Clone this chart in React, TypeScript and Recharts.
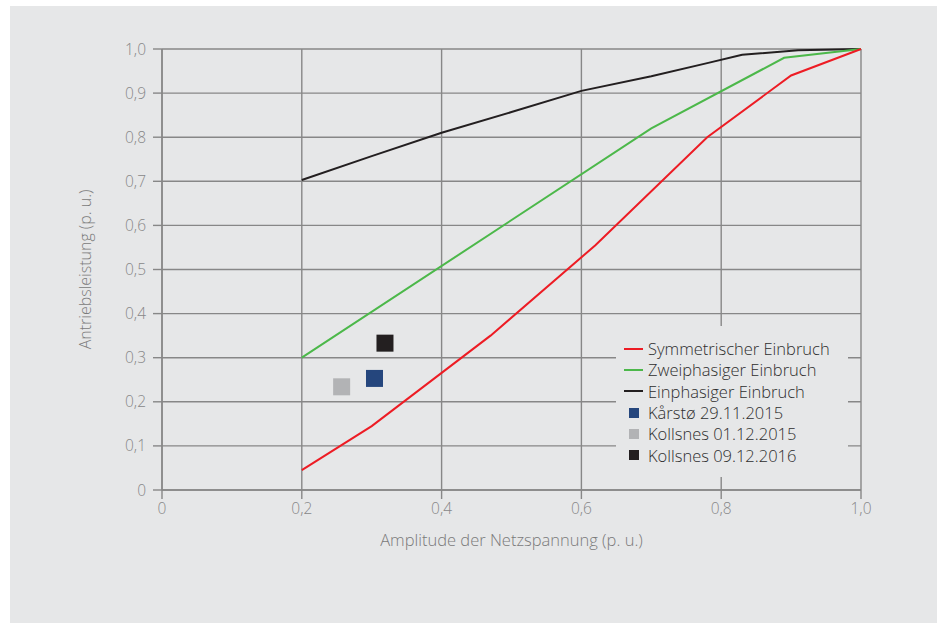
import {
  ComposedChart, Line, Scatter, XAxis, YAxis, CartesianGrid,
} from 'recharts'

// Curves: drive power vs. grid voltage amplitude (p.u.)
const symmetrisch = [
  { x: 0.2, y: 0.045 }, { x: 0.3, y: 0.145 }, { x: 0.47, y: 0.35 },
  { x: 0.62, y: 0.555 }, { x: 0.78, y: 0.8 }, { x: 0.9, y: 0.94 }, { x: 1.0, y: 1.0 },
]
const zweiphasig = [
  { x: 0.2, y: 0.3 }, { x: 0.7, y: 0.82 }, { x: 0.89, y: 0.98 }, { x: 1.0, y: 1.0 },
]
const einphasig = [
  { x: 0.2, y: 0.703 }, { x: 0.3, y: 0.757 }, { x: 0.4, y: 0.81 }, { x: 0.5, y: 0.857 },
  { x: 0.6, y: 0.905 }, { x: 0.7, y: 0.938 }, { x: 0.78, y: 0.968 }, { x: 0.83, y: 0.987 },
  { x: 0.91, y: 0.997 }, { x: 1.0, y: 1.0 },
]

// Measured events
const kaarstoe2015 = [{ x: 0.304, y: 0.253 }]
const kollsnes2015 = [{ x: 0.257, y: 0.234 }]
const kollsnes2016 = [{ x: 0.319, y: 0.333 }]

const xTicks = [0, 0.2, 0.4, 0.6, 0.8, 1.0]
const yTicks = [0, 0.1, 0.2, 0.3, 0.4, 0.5, 0.6, 0.7, 0.8, 0.9, 1.0]

const legendItems = [
  { label: 'Symmetrischer Einbruch', color: '#ed1c24', kind: 'line' },
  { label: 'Zweiphasiger Einbruch', color: '#4cb84a', kind: 'line' },
  { label: 'Einphasiger Einbruch', color: '#231f20', kind: 'line' },
  { label: 'Kårstø 29.11.2015', color: '#25467d', kind: 'square' },
  { label: 'Kollsnes 01.12.2015', color: '#b2b3b5', kind: 'square' },
  { label: 'Kollsnes 09.12.2016', color: '#231f20', kind: 'square' },
]

const BG = '#e6e7e8'
const GRID = '#878787'
const FONT = '"Open Sans", sans-serif'

const fmt = (v: number) => (v === 0 ? '0' : v.toFixed(1).replace('.', ','))

function squareShape(color: string) {
  return (props: any) => {
    const { cx, cy } = props
    const s = 17
    return <rect x={cx - s / 2} y={cy - s / 2} width={s} height={s} fill={color} />
  }
}

// Legend sits on its own background patch, hiding the grid behind it
function LegendBox() {
  return (
    <div style={{
      position: 'absolute', left: 606, top: 320,
      background: BG, width: 232, height: 151, boxSizing: 'border-box',
      padding: '12px 0 0 8px', fontFamily: FONT, fontWeight: 300, fontSize: 16.5, color: '#2e2e2e',
    }}>
      {legendItems.map(it => (
        <div key={it.label} style={{ display: 'flex', alignItems: 'center', height: 21.3 }}>
          <span style={{ width: 19, display: 'flex', justifyContent: it.kind === 'line' ? 'flex-start' : 'center', marginRight: 5 }}>
            {it.kind === 'line'
              ? <span style={{ width: 19, height: 2, background: it.color, display: 'inline-block' }} />
              : <span style={{ width: 10, height: 10, background: it.color, display: 'inline-block' }} />}
          </span>
          <span style={{ whiteSpace: 'nowrap' }}>{it.label}</span>
        </div>
      ))}
    </div>
  )
}

export default function App() {
  return (
    <div style={{ position: 'fixed', left: 0, top: 0, width: 937, height: 623, background: '#fff' }}>
      <div style={{ position: 'absolute', left: 10, top: 6, width: 927, height: 617, background: BG }}>
        <ComposedChart
          width={927}
          height={617}
          margin={{ top: 43, right: 76, left: 60, bottom: 103 }}
          style={{ fontFamily: FONT, fontWeight: 300 }}
        >
          <CartesianGrid stroke={GRID} strokeWidth={1.4} />
          <XAxis
            type="number"
            dataKey="x"
            domain={[0, 1]}
            ticks={xTicks}
            tickFormatter={fmt}
            height={30}
            stroke={GRID}
            strokeWidth={1.4}
            tickSize={9}
            tickMargin={4}
            tick={{ fontSize: 15.5, fill: '#888' }}
            label={{ value: 'Amplitude der Netzspannung (p. u.)', position: 'bottom', offset: 14, fontSize: 16.5, fill: '#7a7a7a' }}
          />
          <YAxis
            type="number"
            dataKey="y"
            domain={[0, 1]}
            ticks={yTicks}
            tickFormatter={fmt}
            width={92}
            stroke={GRID}
            strokeWidth={1.4}
            tickSize={9}
            tickMargin={7}
            tick={{ fontSize: 15.5, fill: '#888' }}
            label={{ value: 'Antriebsleistung (p. u.)', angle: -90, position: 'insideLeft', offset: 15, fontSize: 16, fill: '#7a7a7a', style: { textAnchor: 'middle' } }}
          />
          <Line data={einphasig} dataKey="y" stroke="#231f20" strokeWidth={2} dot={false} isAnimationActive={false} />
          <Line data={zweiphasig} dataKey="y" stroke="#4cb84a" strokeWidth={2} dot={false} isAnimationActive={false} />
          <Line data={symmetrisch} dataKey="y" stroke="#ed1c24" strokeWidth={2} dot={false} isAnimationActive={false} />
          <Scatter data={kollsnes2015} dataKey="y" shape={squareShape('#b2b3b5')} isAnimationActive={false} />
          <Scatter data={kaarstoe2015} dataKey="y" shape={squareShape('#25467d')} isAnimationActive={false} />
          <Scatter data={kollsnes2016} dataKey="y" shape={squareShape('#231f20')} isAnimationActive={false} />
        </ComposedChart>
        <LegendBox />
      </div>
    </div>
  )
}
